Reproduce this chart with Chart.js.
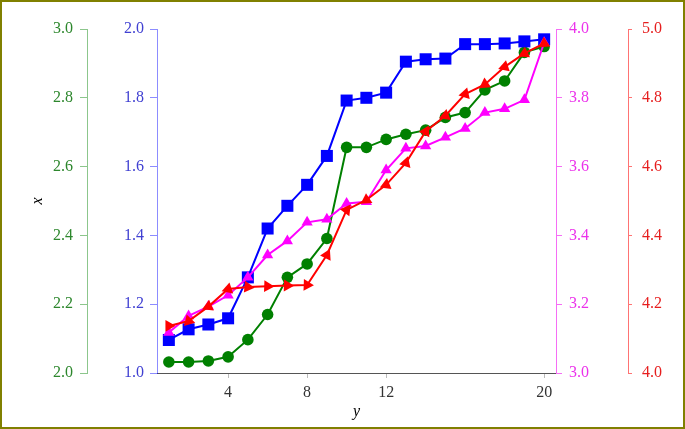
<!DOCTYPE html>
<html><head><meta charset="utf-8">
<script src="https://cdn.jsdelivr.net/npm/chart.js@4.4.1/dist/chart.umd.min.js"></script>
<style>html,body{margin:0;padding:0;background:#fff}#wrap{width:685px;height:429px;position:relative}</style>
</head><body><div id="wrap"><canvas id="c" width="685" height="429"></canvas></div>
<script>
const xValues = [1,2,3,4,5,6,7,8,9,10,11,12,13,14,15,16,17,18,19,20];
const xTicks = [4,8,12,20];
const xTickLabels = ['4','8','12','20'];
const seriesGreen = [2.032,2.032,2.035,2.047,2.097,2.170,2.278,2.317,2.391,2.656,2.656,2.679,2.694,2.706,2.743,2.757,2.823,2.849,2.932,2.949];
const seriesBlue = [1.096,1.127,1.141,1.159,1.278,1.420,1.486,1.547,1.631,1.792,1.800,1.815,1.905,1.912,1.914,1.956,1.956,1.958,1.964,1.970];
const seriesMagenta = [3.118,3.166,3.193,3.226,3.278,3.343,3.384,3.438,3.447,3.493,3.498,3.590,3.653,3.660,3.685,3.711,3.757,3.768,3.794,3.960];
const seriesRed = [4.137,4.151,4.193,4.244,4.250,4.252,4.254,4.256,4.343,4.474,4.503,4.547,4.611,4.702,4.748,4.811,4.839,4.890,4.929,4.958];
const rangeGreen = [2, 3];
const rangeBlue = [1, 2];
const rangeMagenta = [3, 4];
const rangeRed = [4, 5];
const xRange = [0.4, 20.6];

const FONT = 'Liberation Serif';
const pts = arr => arr.map((v, i) => ({x: xValues[i], y: v}));

function yAxis(range, pos, weight, width, labelColor, lineColor, tickLen, pad, extra) {
  return Object.assign({
    type: 'linear', position: pos, weight: weight,
    min: range[0], max: range[1],
    grid: {drawOnChartArea: false, drawTicks: true, tickLength: tickLen, color: lineColor, lineWidth: 1},
    border: {display: true, color: lineColor, width: 1},
    ticks: {stepSize: 0.2, color: labelColor, padding: pad, font: {family: FONT, size: 16},
      callback: v => Number(v).toFixed(1)},
    afterFit: s => { s.width = width; }
  }, extra || {});
}

const redRotation = ctx => {
  const i = ctx.dataIndex;
  const ch = ctx.chart;
  if (i === undefined || i === 0 || !ch.scales || !ch.scales.x || !ch.scales.yRed) return 90;
  const xs = ch.scales.x, ys = ch.scales.yRed;
  const dx = xs.getPixelForValue(xValues[i]) - xs.getPixelForValue(xValues[i-1]);
  const dy = ys.getPixelForValue(seriesRed[i]) - ys.getPixelForValue(seriesRed[i-1]);
  const th = Math.atan2(dy, dx) * 180 / Math.PI;
  const r = 90 - th;
  return isFinite(r) ? r : 90;
};

const borderPlugin = {
  id: 'frame',
  afterDraw(chart) {
    const c = chart.ctx;
    c.save();
    c.strokeStyle = '#808000';
    c.lineWidth = 2;
    c.strokeRect(1, 1, chart.width - 2, chart.height - 2);
    c.restore();
  }
};

new Chart(document.getElementById('c'), {
  type: 'line',
  data: {
    datasets: [
      {label: 'green', data: pts(seriesGreen), yAxisID: 'yGreen', order: 4,
       borderColor: 'rgb(0,128,0)', backgroundColor: 'rgb(0,128,0)', borderWidth: 2,
       pointStyle: 'circle', pointRadius: 5.8, pointBorderWidth: 0},
      {label: 'blue', data: pts(seriesBlue), yAxisID: 'yBlue', order: 3,
       borderColor: 'rgb(0,0,255)', backgroundColor: 'rgb(0,0,255)', borderWidth: 2,
       pointStyle: 'rect', pointRadius: 8.5, pointBorderWidth: 0},
      {label: 'magenta', data: pts(seriesMagenta), yAxisID: 'yMag', order: 2,
       borderColor: 'rgb(255,0,255)', backgroundColor: 'rgb(255,0,255)', borderWidth: 2,
       pointStyle: 'triangle', pointRadius: 6.5, pointBorderWidth: 0},
      {label: 'red', data: pts(seriesRed), yAxisID: 'yRed', order: 1,
       borderColor: 'rgb(255,0,0)', backgroundColor: 'rgb(255,0,0)', borderWidth: 2,
       pointStyle: 'triangle', pointRadius: 6.8, pointBorderWidth: 0, pointRotation: redRotation}
    ]
  },
  options: {
    responsive: false, animation: false,
    layout: {padding: {top: 29, left: 0, right: 0, bottom: 0}},
    plugins: {legend: {display: false}, tooltip: {enabled: false}},
    elements: {line: {tension: 0}},
    scales: {
      x: {
        type: 'linear', position: 'bottom', min: xRange[0], max: xRange[1],
        afterBuildTicks: s => { s.ticks = xTicks.map(v => ({value: v})); },
        ticks: {color: '#333', padding: 5, font: {family: FONT, size: 16}, maxRotation: 0,
          callback: v => xTickLabels[xTicks.indexOf(v)]},
        grid: {drawOnChartArea: false, drawTicks: true, tickLength: 5, color: '#bbb'},
        border: {display: true, color: '#555', width: 1},
        title: {display: true, text: 'y', color: '#000', font: {family: FONT, size: 16, style: 'italic'}, padding: {top: 0, bottom: 7.5}},
        afterFit: s => { s.height = 56; }
      },
      yGreen: yAxis(rangeGreen, 'left', 2, 87, 'rgb(45,135,45)', 'rgba(0,128,0,0.45)', 7, 7,
        {title: {display: true, text: 'x', color: '#000', font: {family: FONT, size: 16, style: 'italic'}, padding: {top: 28.5, bottom: 0}}}),
      yBlue: yAxis(rangeBlue, 'left', 1, 70, 'rgb(65,65,210)', 'rgba(0,0,255,0.45)', 7, 6),
      yMag: yAxis(rangeMagenta, 'right', 1, 72, 'rgb(235,50,235)', 'rgb(245,110,245)', 6, 7),
      yRed: yAxis(rangeRed, 'right', 2, 57, 'rgb(230,30,30)', 'rgba(255,0,0,0.55)', 4, 10)
    }
  },
  plugins: [borderPlugin]
});
</script>
</body></html>
